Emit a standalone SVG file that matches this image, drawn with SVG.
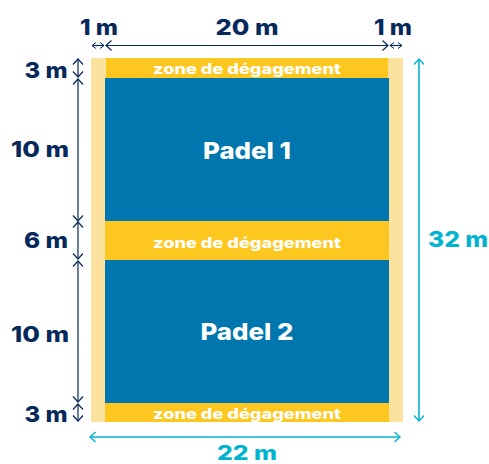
<svg xmlns="http://www.w3.org/2000/svg" width="489" height="464" viewBox="0 0 489 464">
<style>
text{font-family:"Inter","Liberation Sans",sans-serif;font-weight:800;text-anchor:middle}
.d{fill:#06295c;font-size:22px}
.c{fill:#00b4d0;font-size:22px}
.z{fill:#fff;font-size:14.500px}
.p{fill:#fff;font-size:23.500px}
.sand{fill:#fde19f}.yel{fill:#fec71f}.blue{fill:#0076ae}
.n{fill:none;stroke:#06295c;stroke-width:1.2}
.k{fill:none;stroke:#00b4d0;stroke-width:1.6}
</style>
<defs>
<marker id="an" viewBox="-7 -6 8 12" refX="0" refY="0" markerWidth="8" markerHeight="12" markerUnits="userSpaceOnUse" orient="auto-start-reverse"><path d="M-5.500-5 L0 0 L-5.500 5" fill="none" stroke="#06295c" stroke-width="1.2"/></marker>
<marker id="as" viewBox="-5 -4 6 8" refX="0" refY="0" markerWidth="6" markerHeight="8" markerUnits="userSpaceOnUse" orient="auto-start-reverse"><path d="M-4-3 L0 0 L-4 3" fill="none" stroke="#06295c" stroke-width="1"/></marker>
<marker id="ac" viewBox="-7 -6 8 12" refX="0" refY="0" markerWidth="8" markerHeight="12" markerUnits="userSpaceOnUse" orient="auto-start-reverse"><path d="M-5.500-5 L0 0 L-5.500 5" fill="none" stroke="#00b4d0" stroke-width="1.4"/></marker>
</defs>
<g id="terrain">
<rect class="sand" x="91" y="58" width="312" height="364"/>
</g>
<g id="zone-top"><rect class="yel" x="106" y="58" width="282" height="20"/><text class="z" x="247" y="73.500" textLength="188" lengthAdjust="spacingAndGlyphs">zone de dégagement</text></g>
<g id="padel-1"><rect class="blue" x="105" y="78" width="284" height="143"/><text class="p" x="247" y="159" textLength="88" lengthAdjust="spacingAndGlyphs">Padel 1</text></g>
<g id="zone-middle"><rect class="yel" x="105" y="221" width="284" height="39"/><text class="z" x="247" y="248" textLength="188" lengthAdjust="spacingAndGlyphs">zone de dégagement</text></g>
<g id="padel-2"><rect class="blue" x="105" y="260" width="284" height="143"/><text class="p" x="247" y="340" textLength="93" lengthAdjust="spacingAndGlyphs">Padel 2</text></g>
<g id="zone-bottom"><rect class="yel" x="105" y="403" width="284" height="19"/><text class="z" x="247" y="419" textLength="188" lengthAdjust="spacingAndGlyphs">zone de dégagement</text></g>
<g id="connectors">
<path class="n" d="M92 45.500H104" marker-start="url(#as)" marker-end="url(#as)"/>
<path class="n" d="M106 45.500H388" marker-start="url(#an)" marker-end="url(#an)"/>
<path class="n" d="M390 45.500H402" marker-start="url(#as)" marker-end="url(#as)"/>
<path class="n" d="M78 59V77" marker-start="url(#an)" marker-end="url(#an)"/>
<path class="n" d="M78 79V221" marker-start="url(#an)" marker-end="url(#an)"/>
<path class="n" d="M78 222V259" marker-start="url(#an)" marker-end="url(#an)"/>
<path class="n" d="M78 261V402" marker-start="url(#an)" marker-end="url(#an)"/>
<path class="n" d="M78 404V421" marker-start="url(#an)" marker-end="url(#an)"/>
<path class="k" d="M419 59V421" marker-start="url(#ac)" marker-end="url(#ac)"/>
<path class="k" d="M90 437H400" marker-start="url(#ac)" marker-end="url(#ac)"/>
</g>
<g id="labels">
<text class="d" x="99" y="35" textLength="38" lengthAdjust="spacingAndGlyphs">1 m</text>
<text class="d" x="247" y="35" textLength="63" lengthAdjust="spacingAndGlyphs">20 m</text>
<text class="d" x="393" y="35" textLength="38" lengthAdjust="spacingAndGlyphs">1 m</text>
<text class="d" x="46" y="78" textLength="43" lengthAdjust="spacingAndGlyphs">3 m</text>
<text class="d" x="40" y="157" textLength="58" lengthAdjust="spacingAndGlyphs">10 m</text>
<text class="d" x="46" y="248" textLength="44" lengthAdjust="spacingAndGlyphs">6 m</text>
<text class="d" x="40" y="342" textLength="58" lengthAdjust="spacingAndGlyphs">10 m</text>
<text class="d" x="46" y="422" textLength="43" lengthAdjust="spacingAndGlyphs">3 m</text>
<text class="c" x="458" y="247" textLength="60" lengthAdjust="spacingAndGlyphs">32 m</text>
<text class="c" x="247" y="460" textLength="60" lengthAdjust="spacingAndGlyphs" style="font-size:20px">22 m</text>
</g>
</svg>
